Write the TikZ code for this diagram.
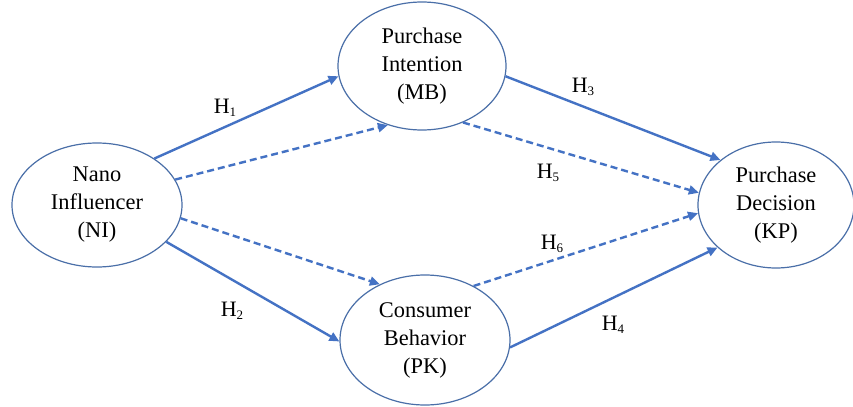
\documentclass[tikz,border=0pt]{standalone}
\usepackage{fontspec}
\setmainfont{Liberation Serif}
\usetikzlibrary{shapes.geometric,arrows.meta}
\definecolor{arrowblue}{HTML}{4472C4}
\definecolor{rimblue}{HTML}{4A6FA8}
\newcommand{\hyp}[1]{H\raisebox{-0.25ex}{\fontsize{6.5}{7}\selectfont #1}}

\begin{document}
\begin{tikzpicture}[x=0.5pt,y=-0.5pt,
  >={Triangle[length=5pt,width=4.5pt]},
  construct/.style={draw=rimblue,line width=0.6pt,ellipse,inner sep=0pt,align=center,font=\fontsize{11.2}{14}\selectfont},
  direct/.style={->,draw=arrowblue,line width=1.2pt},
  mediated/.style={->,draw=arrowblue,line width=1.2pt,dash pattern=on 3.5pt off 2pt},
  hlabel/.style={font=\fontsize{11}{12}\selectfont}]
\useasboundingbox[fill=white] (0,0) rectangle (853,407);
\node[construct,minimum width=170pt*0.5,minimum height=124pt*0.5] (NI) at (97,205) {Nano\\Influencer\\(NI)};
\node[construct,minimum width=168pt*0.5,minimum height=128pt*0.5] (MB) at (422,66) {Purchase\\Intention\\(MB)};
\node[construct,minimum width=170pt*0.5,minimum height=130pt*0.5] (PK) at (425,340) {Consumer\\Behavior\\(PK)};
\node[construct,minimum width=156pt*0.5,minimum height=126pt*0.5] (KP) at (776,205) {Purchase\\Decision\\(KP)};
% direct paths
\draw[direct] (NI.39) -- (MB.187);
\draw[direct] (NI.-28) -- (PK.181);
\draw[direct] (MB.-7) -- (KP.141);
\draw[direct] (PK.-5) -- (KP.216);
% mediated paths
\draw[mediated] (NI.18) -- (MB.240);
\draw[mediated] (NI.-9) -- (PK.129);
\draw[mediated] (MB.-54) -- (KP.171);
\draw[mediated] (PK.48) -- (KP.186);
% labels
\node[hlabel] (h1) at (225,108) {\hyp{1}};
\node[hlabel] (h2) at (232,311) {\hyp{2}};
\node[hlabel] (h3) at (583,87) {\hyp{3}};
\node[hlabel] (h4) at (613,325) {\hyp{4}};
\node[hlabel] (h5) at (548,173) {\hyp{5}};
\node[hlabel] (h6) at (552,244) {\hyp{6}};
\end{tikzpicture}
\end{document}
